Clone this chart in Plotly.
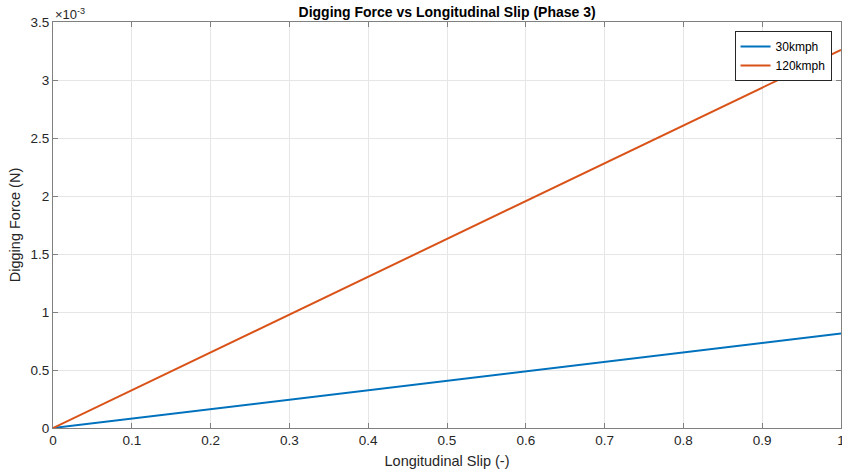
import plotly.graph_objects as go

slip = [0.0, 0.1, 0.2, 0.3, 0.4, 0.5, 0.6, 0.7, 0.8, 0.9, 1.0]
force_30 = [0.0, 0.0815e-3, 0.163e-3, 0.2445e-3, 0.326e-3, 0.4075e-3, 0.489e-3, 0.5705e-3, 0.652e-3, 0.7335e-3, 0.815e-3]
force_120 = [0.0, 0.326e-3, 0.652e-3, 0.978e-3, 1.304e-3, 1.63e-3, 1.956e-3, 2.282e-3, 2.608e-3, 2.934e-3, 3.26e-3]
y_tick_vals = [0, 0.5e-3, 1e-3, 1.5e-3, 2e-3, 2.5e-3, 3e-3, 3.5e-3]
y_tick_text = ["0", "0.5", "1", "1.5", "2", "2.5", "3", "3.5"]
x_tick_vals = [0, 0.1, 0.2, 0.3, 0.4, 0.5, 0.6, 0.7, 0.8, 0.9, 1]
x_tick_text = ["0", "0.1", "0.2", "0.3", "0.4", "0.5", "0.6", "0.7", "0.8", "0.9", "1"]

font = "Liberation Sans, Arial, sans-serif"

fig = go.Figure()
fig.add_trace(go.Scatter(x=slip, y=force_30, mode="lines", name="30kmph",
                         line=dict(color="#0072BD", width=2)))
fig.add_trace(go.Scatter(x=slip, y=force_120, mode="lines", name="120kmph",
                         line=dict(color="#D95319", width=2)))

axis_common = dict(
    showgrid=True, gridcolor="#E6E6E6", gridwidth=1,
    showline=True, linecolor="#808080", linewidth=1, mirror="ticks",
    ticks="inside", ticklen=5, tickcolor="#808080",
    zeroline=False, ticklabeloverflow="allow", automargin=False,
    tickfont=dict(family=font, size=13.5, color="#262626"),
)

fig.update_layout(
    width=842, height=475,
    margin=dict(l=53, r=1, t=22, b=47),
    paper_bgcolor="white", plot_bgcolor="white",
    title=dict(text="<b>Digging Force vs Longitudinal Slip (Phase 3)</b>",
               x=0.531, xanchor="center", y=0.975, yanchor="middle",
               font=dict(family=font, size=14, color="black")),
    xaxis=dict(range=[0, 1], tickvals=x_tick_vals, ticktext=x_tick_text,
               title=dict(text="Longitudinal Slip (-)", standoff=8,
                          font=dict(family=font, size=14.5, color="#262626")),
               **axis_common),
    yaxis=dict(range=[0, 3.5e-3], tickvals=y_tick_vals, ticktext=y_tick_text,
               title=dict(text="Digging Force (N)", standoff=6,
                          font=dict(family=font, size=14.5, color="#262626")),
               **axis_common),
    legend=dict(x=0.988, y=0.978, xanchor="right", yanchor="top",
                bgcolor="white", bordercolor="#262626", borderwidth=1,
                font=dict(family=font, size=12, color="black"),
                tracegroupgap=0, itemwidth=30),
    showlegend=True,
    annotations=[dict(text="×10<sup>-3</sup>", xref="paper", yref="paper",
                      x=0.0, y=1.0, xanchor="left", yanchor="bottom",
                      showarrow=False, yshift=-2,
                      font=dict(family=font, size=13, color="#262626"))],
)

fig.write_html("out.html")
